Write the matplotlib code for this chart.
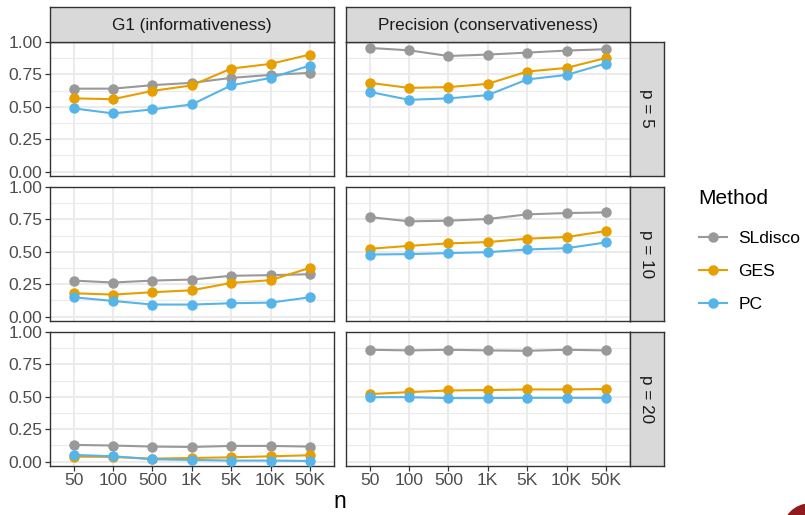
import matplotlib
matplotlib.use("Agg")
import matplotlib.pyplot as plt
from matplotlib.lines import Line2D
from matplotlib.patches import Circle
import numpy as np

plt.rcParams["font.family"] = ["Liberation Sans", "DejaVu Sans"]

n_labels = ["50", "100", "500", "1K", "5K", "10K", "50K"]
methods = ["SLdisco", "GES", "PC"]
method_colors = ["#999999", "#E69F00", "#56B4E9"]
metrics = ["G1 (informativeness)", "Precision (conservativeness)"]
p_values = [5, 10, 20]

# G1 scores, p = 5 / 10 / 20
g1_p5_sl = [0.640, 0.640, 0.667, 0.685, 0.723, 0.746, 0.762]
g1_p5_ges = [0.565, 0.559, 0.623, 0.665, 0.795, 0.831, 0.903]
g1_p5_pc = [0.488, 0.449, 0.480, 0.518, 0.665, 0.723, 0.818]
g1_p10_sl = [0.278, 0.263, 0.278, 0.286, 0.315, 0.320, 0.327]
g1_p10_ges = [0.180, 0.170, 0.188, 0.203, 0.260, 0.281, 0.376]
g1_p10_pc = [0.149, 0.121, 0.093, 0.093, 0.103, 0.108, 0.149]
g1_p20_sl = [0.129, 0.124, 0.116, 0.113, 0.121, 0.121, 0.116]
g1_p20_ges = [0.039, 0.036, 0.023, 0.028, 0.033, 0.041, 0.049]
g1_p20_pc = [0.052, 0.041, 0.018, 0.013, 0.008, 0.008, 0.005]

# precision, p = 5 / 10 / 20
prec_p5_sl = [0.954, 0.936, 0.892, 0.903, 0.918, 0.934, 0.944]
prec_p5_ges = [0.685, 0.646, 0.652, 0.677, 0.772, 0.800, 0.877]
prec_p5_pc = [0.615, 0.554, 0.565, 0.590, 0.711, 0.746, 0.834]
prec_p10_sl = [0.768, 0.735, 0.740, 0.753, 0.789, 0.799, 0.804]
prec_p10_ges = [0.523, 0.546, 0.565, 0.575, 0.601, 0.614, 0.660]
prec_p10_pc = [0.479, 0.482, 0.490, 0.497, 0.518, 0.528, 0.572]
prec_p20_sl = [0.863, 0.858, 0.863, 0.858, 0.855, 0.863, 0.858]
prec_p20_ges = [0.521, 0.536, 0.549, 0.552, 0.557, 0.557, 0.560]
prec_p20_pc = [0.497, 0.497, 0.490, 0.490, 0.492, 0.492, 0.492]

panels = {
    (0, 0): [g1_p5_sl, g1_p5_ges, g1_p5_pc],
    (0, 1): [prec_p5_sl, prec_p5_ges, prec_p5_pc],
    (1, 0): [g1_p10_sl, g1_p10_ges, g1_p10_pc],
    (1, 1): [prec_p10_sl, prec_p10_ges, prec_p10_pc],
    (2, 0): [g1_p20_sl, g1_p20_ges, g1_p20_pc],
    (2, 1): [prec_p20_sl, prec_p20_ges, prec_p20_pc],
}

W, H = 805, 515
fig = plt.figure(figsize=(W / 100, H / 100), dpi=100)

col_x = [50, 346]
col_w = 283.5
row_y = [42, 187, 332]
row_h = 133.5
border = "#333333"
grid_c = "#EBEBEB"
strip_c = "#D9D9D9"
fs_tick = 12.6
fs_strip = 12.3


def px_rect(x, y, w, h):
    return [x / W, 1 - (y + h) / H, w / W, h / H]


x = np.arange(len(n_labels))
for (r, c), series in panels.items():
    ax = fig.add_axes(px_rect(col_x[c], row_y[r], col_w, row_h))
    ax.set_xlim(-0.6, len(n_labels) - 0.4)
    ax.set_ylim(-0.03, 1.0)
    ax.set_xticks(x)
    ax.set_yticks([0, 0.25, 0.5, 0.75, 1.0])
    ax.set_yticks([0.125, 0.375, 0.625, 0.875], minor=True)
    ax.grid(which="major", color=grid_c, linewidth=1.5)
    ax.grid(which="minor", axis="y", color=grid_c, linewidth=0.8)
    ax.set_axisbelow(True)
    for sp in ax.spines.values():
        sp.set_color(border)
        sp.set_linewidth(1.0)
    ax.tick_params(which="minor", length=0)
    ax.tick_params(which="major", length=3.6, width=0.9, color=border,
                   labelcolor="#4D4D4D", labelsize=fs_tick, pad=2)
    if c == 0:
        ax.set_yticklabels(["0.00", "0.25", "0.50", "0.75", "1.00"])
    else:
        ax.tick_params(axis="y", length=0, labelleft=False)
    if r == 2:
        ax.set_xticklabels(n_labels)
    else:
        ax.tick_params(axis="x", length=0, labelbottom=False)

    for vals, col in zip(series, method_colors):
        ax.plot(x, vals, color=col, linewidth=1.5, zorder=2)
    for vals, col in zip(series, method_colors):
        ax.plot(x, vals, "o", color=col, markersize=6.5, zorder=3,
                linestyle="none")

# top strips
for c, lab in enumerate(metrics):
    sax = fig.add_axes(px_rect(col_x[c], 7, col_w, 35))
    sax.set_facecolor(strip_c)
    sax.set_xticks([])
    sax.set_yticks([])
    for sp in sax.spines.values():
        sp.set_color(border)
        sp.set_linewidth(1.0)
    sax.text(0.5, 0.48, lab, ha="center", va="center", fontsize=fs_strip,
             color="#1A1A1A", transform=sax.transAxes)

# right strips
for r, p in enumerate(p_values):
    sax = fig.add_axes(px_rect(629.5, row_y[r], 34.5, row_h))
    sax.set_facecolor(strip_c)
    sax.set_xticks([])
    sax.set_yticks([])
    for sp in sax.spines.values():
        sp.set_color(border)
        sp.set_linewidth(1.0)
    sax.text(0.5, 0.5, "p = %d" % p, ha="center", va="center",
             fontsize=fs_strip, rotation=-90, color="#1A1A1A",
             transform=sax.transAxes)

fig.text(339.5 / W, 1 - 502 / H, "n", ha="center", va="center", fontsize=16.5,
         color="black")

# legend: title placed separately to match ggplot spacing
fig.text(698 / W, 1 - 198 / H, "Method", ha="left", va="center",
         fontsize=15, color="black")
handles = [Line2D([0], [0], color=col, linewidth=1.5, marker="o",
                  markersize=6.5) for col in method_colors]
fig.legend(handles, methods, frameon=False,
           loc="upper left", bbox_to_anchor=(699 / W, 1 - 231 / H),
           fontsize=12.6, handlelength=1.6, labelspacing=1.0,
           handletextpad=0.65, borderaxespad=0, borderpad=0)

# stray slide decoration in the bottom-right corner
fig.patches.append(Circle((8.10, (H - 531) / 100), 0.27, color="#8E1B1F",
                          transform=fig.dpi_scale_trans, figure=fig))

fig.savefig("out.png", dpi=100)
